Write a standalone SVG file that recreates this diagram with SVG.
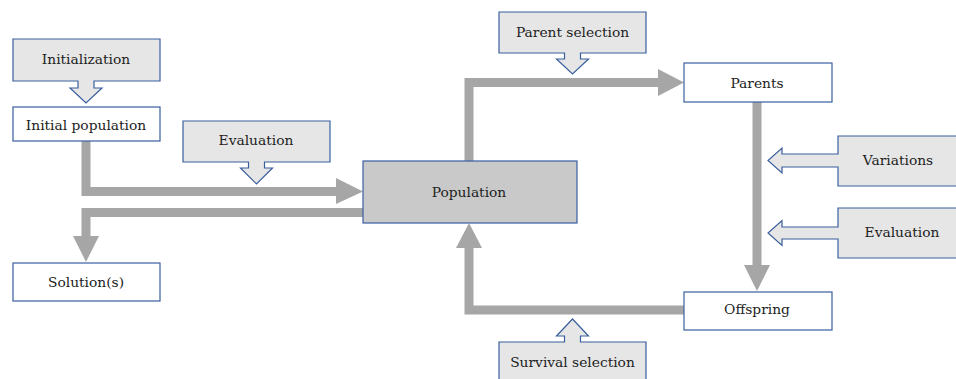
<svg xmlns="http://www.w3.org/2000/svg" width="956" height="379" viewBox="0 0 956 379">
  <style>
    .box { fill: #ffffff; stroke: #3a5f9e; stroke-width: 1.2; }
    .pop { fill: #c9c9c9; stroke: #3a5f9e; stroke-width: 1.2; }
    .callout { fill: #e6e6e6; stroke: #3a5f9e; stroke-width: 1.2; stroke-linejoin: miter; }
    .bar { fill: none; stroke: #a6a6a6; stroke-width: 9; stroke-linejoin: miter; stroke-linecap: butt; }
    .head { fill: #a6a6a6; }
    text { font-family: "DejaVu Serif", "Liberation Serif", serif; font-size: 13.8px; fill: #222222; text-anchor: middle; }
  </style>

  <!-- Thick grey flow connectors -->
  <g id="connectors">
    <path class="bar" d="M86,141 V191.5 H337"/>
    <polygon class="head" points="336,178 363,191.5 336,204"/>

    <path class="bar" d="M363,212.5 H86 V237"/>
    <polygon class="head" points="73,236 99,236 86,262"/>

    <path class="bar" d="M469,161 V82.5 H659"/>
    <polygon class="head" points="658,69 684,82.5 658,96"/>

    <path class="bar" d="M757,102 V266"/>
    <polygon class="head" points="744,265 770,265 757,291"/>

    <path class="bar" d="M684,310 H469 V247"/>
    <polygon class="head" points="456,248 482,248 469,223"/>
  </g>

  <!-- Main nodes -->
  <g id="initial-population">
    <rect class="box" x="13" y="107" width="147" height="34"/>
    <text x="86" y="130">Initial population</text>
  </g>
  <g id="population">
    <rect class="pop" x="363" y="161" width="214" height="62"/>
    <text x="469" y="196.5">Population</text>
  </g>
  <g id="solutions">
    <rect class="box" x="13" y="263" width="147" height="38"/>
    <text x="86" y="287">Solution(s)</text>
  </g>
  <g id="parents">
    <rect class="box" x="684" y="63" width="148" height="39"/>
    <text x="757" y="87.5">Parents</text>
  </g>
  <g id="offspring">
    <rect class="box" x="684" y="292" width="148" height="38"/>
    <text x="757" y="314">Offspring</text>
  </g>

  <!-- Operator callouts -->
  <g id="initialization">
    <path class="callout" d="M13,39 H160 V81 H94 V88 H102 L86,103 L70,88 H78 V81 H13 Z"/>
    <text x="86" y="63.5">Initialization</text>
  </g>
  <g id="evaluation-initial">
    <path class="callout" d="M183,121 H330 V162 H264.5 V168 H272.5 L256.5,184 L240.5,168 H248.5 V162 H183 Z"/>
    <text x="256" y="145">Evaluation</text>
  </g>
  <g id="parent-selection">
    <path class="callout" d="M499,12 H646 V53 H580.5 V59 H588.5 L572.5,74 L556.5,59 H564.5 V53 H499 Z"/>
    <text x="572.5" y="36.5">Parent selection</text>
  </g>
  <g id="survival-selection">
    <path class="callout" d="M499,390 V342 H564.5 V336 H556.5 L572.5,319 L588.5,336 H580.5 V342 H646 V390"/>
    <text x="572.5" y="366.5">Survival selection</text>
  </g>
  <g id="variations">
    <path class="callout" d="M962,136 H838 V154 H782 V148 L768,160.5 L782,173 V167 H838 V186 H962"/>
    <text x="898" y="165">Variations</text>
  </g>
  <g id="evaluation-offspring">
    <path class="callout" d="M962,208 H838 V227 H782 V220.5 L768,233 L782,245.5 V239 H838 V258 H962"/>
    <text x="902" y="236.5">Evaluation</text>
  </g>
</svg>
